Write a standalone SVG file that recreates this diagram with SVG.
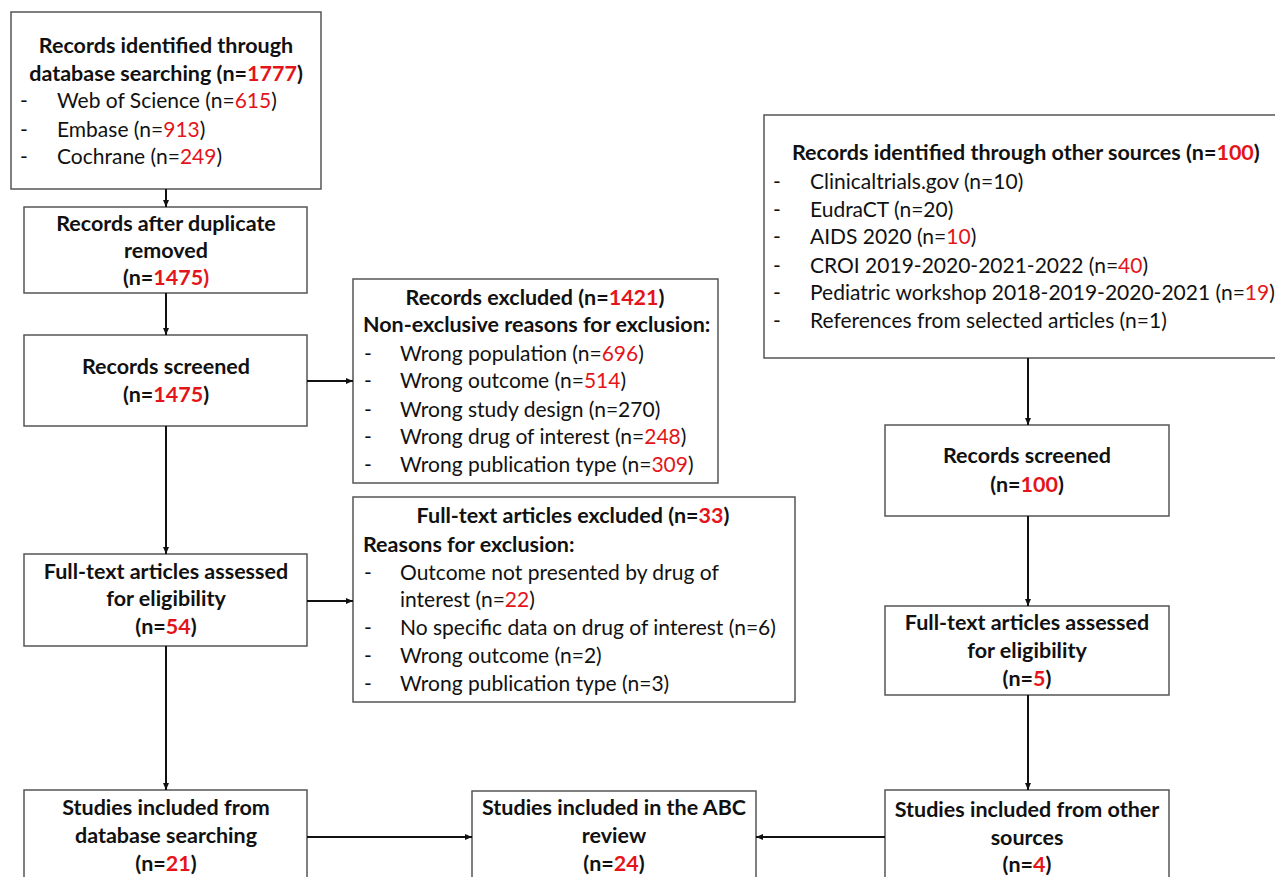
<svg xmlns="http://www.w3.org/2000/svg" width="1275" height="877" viewBox="0 0 1275 877">
<defs>
<style>
.box{fill:#fff;stroke:#555;stroke-width:1.5}
text{font-family:Lato,"Open Sans","Liberation Sans",sans-serif;fill:#111}
.b{font-weight:bold;font-size:21.5px}
.r{font-size:21px}
.c{text-anchor:middle}
.red{fill:#e3151a}
.con line{stroke:#111;stroke-width:2;marker-end:url(#ah)}
</style>
<marker id="ah" markerUnits="userSpaceOnUse" markerWidth="8" markerHeight="8" refX="7" refY="4" orient="auto">
<path d="M0,1 L7,4 L0,7 z" fill="#111"/>
</marker>
</defs>
<rect width="1275" height="877" fill="#fff"/>

<g id="n1">
<rect class="box" x="11" y="12" width="310" height="177"/>
<text class="b c" x="166" y="53">Records identified through</text>
<text class="b c" x="166" y="81">database searching (n=<tspan class="red">1777</tspan>)</text>
<text class="r" x="20" y="108">-</text><text class="r" x="57" y="108">Web of Science (n=<tspan class="red">615</tspan>)</text>
<text class="r" x="20" y="137">-</text><text class="r" x="57" y="137">Embase (n=<tspan class="red">913</tspan>)</text>
<text class="r" x="20" y="164">-</text><text class="r" x="57" y="164">Cochrane (n=<tspan class="red">249</tspan>)</text>
</g>

<g id="n2">
<rect class="box" x="24" y="207" width="283" height="86"/>
<text class="b c" x="166" y="231">Records after duplicate</text>
<text class="b c" x="166" y="258">removed</text>
<text class="b c" x="166" y="285">(n=<tspan class="red">1475)</tspan></text>
</g>

<g id="n3">
<rect class="box" x="24" y="335" width="283" height="91"/>
<text class="b c" x="166" y="374">Records screened</text>
<text class="b c" x="166" y="402">(n=<tspan class="red">1475</tspan>)</text>
</g>

<g id="n4">
<rect class="box" x="353" y="279" width="365" height="204"/>
<text class="b c" x="535" y="305">Records excluded (n=<tspan class="red">1421</tspan>)</text>
<text class="b" x="363" y="332">Non-exclusive reasons for exclusion:</text>
<text class="r" x="364" y="361">-</text><text class="r" x="400" y="361">Wrong population (n=<tspan class="red">696</tspan>)</text>
<text class="r" x="364" y="388">-</text><text class="r" x="400" y="388">Wrong outcome (n=<tspan class="red">514</tspan>)</text>
<text class="r" x="364" y="417">-</text><text class="r" x="400" y="417">Wrong study design (n=270)</text>
<text class="r" x="364" y="444">-</text><text class="r" x="400" y="444">Wrong drug of interest (n=<tspan class="red">248</tspan>)</text>
<text class="r" x="364" y="472">-</text><text class="r" x="400" y="472">Wrong publication type (n=<tspan class="red">309</tspan>)</text>
</g>

<g id="n5">
<rect class="box" x="24" y="554" width="283" height="92"/>
<text class="b c" x="166" y="579">Full-text articles assessed</text>
<text class="b c" x="166" y="606">for eligibility</text>
<text class="b c" x="166" y="634">(n=<tspan class="red">54</tspan>)</text>
</g>

<g id="n6">
<rect class="box" x="353" y="497" width="442" height="205"/>
<text class="b c" x="573" y="523">Full-text articles excluded (n=<tspan class="red">33</tspan>)</text>
<text class="b" x="363" y="552">Reasons for exclusion:</text>
<text class="r" x="364" y="580">-</text><text class="r" x="400" y="580">Outcome not presented by drug of</text>
<text class="r" x="400" y="607">interest (n=<tspan class="red">22</tspan>)</text>
<text class="r" x="364" y="635">-</text><text class="r" x="400" y="635">No specific data on drug of interest (n=6)</text>
<text class="r" x="364" y="663">-</text><text class="r" x="400" y="663">Wrong outcome (n=2)</text>
<text class="r" x="364" y="691">-</text><text class="r" x="400" y="691">Wrong publication type (n=3)</text>
</g>

<g id="n7">
<rect class="box" x="24" y="790" width="283" height="110"/>
<text class="b c" x="166" y="815">Studies included from</text>
<text class="b c" x="166" y="843">database searching</text>
<text class="b c" x="166" y="871">(n=<tspan class="red">21</tspan>)</text>
</g>

<g id="n8">
<rect class="box" x="472" y="791" width="284" height="110"/>
<text class="b c" x="614" y="815">Studies included in the ABC</text>
<text class="b c" x="614" y="843">review</text>
<text class="b c" x="614" y="871">(n=<tspan class="red">24</tspan>)</text>
</g>

<g id="n9">
<rect class="box" x="764" y="115" width="520" height="243"/>
<text class="b" x="792" y="160">Records identified through other sources (n=<tspan class="red">100</tspan>)</text>
<text class="r" x="773" y="189">-</text><text class="r" x="810" y="189">Clinicaltrials.gov (n=10)</text>
<text class="r" x="773" y="217">-</text><text class="r" x="810" y="217">EudraCT (n=20)</text>
<text class="r" x="773" y="244">-</text><text class="r" x="810" y="244">AIDS 2020 (n=<tspan class="red">10</tspan>)</text>
<text class="r" x="773" y="273">-</text><text class="r" x="810" y="273">CROI 2019-2020-2021-2022 (n=<tspan class="red">40</tspan>)</text>
<text class="r" x="773" y="300">-</text><text class="r" x="810" y="300">Pediatric workshop 2018-2019-2020-2021 (n=<tspan class="red">19</tspan>)</text>
<text class="r" x="773" y="328">-</text><text class="r" x="810" y="328">References from selected articles (n=1)</text>
</g>

<g id="n10">
<rect class="box" x="885" y="425" width="284" height="91"/>
<text class="b c" x="1027" y="463">Records screened</text>
<text class="b c" x="1027" y="492">(n=<tspan class="red">100</tspan>)</text>
</g>

<g id="n11">
<rect class="box" x="885" y="606" width="284" height="89"/>
<text class="b c" x="1027" y="630">Full-text articles assessed</text>
<text class="b c" x="1027" y="658">for eligibility</text>
<text class="b c" x="1027" y="686">(n=<tspan class="red">5</tspan>)</text>
</g>

<g id="n12">
<rect class="box" x="885" y="790" width="284" height="110"/>
<text class="b c" x="1027" y="817">Studies included from other</text>
<text class="b c" x="1027" y="845">sources</text>
<text class="b c" x="1027" y="872">(n=<tspan class="red">4</tspan>)</text>
</g>

<g id="connectors" class="con">
<line x1="166" y1="189" x2="166" y2="207"/>
<line x1="166" y1="293" x2="166" y2="335"/>
<line x1="307" y1="381" x2="353" y2="381"/>
<line x1="166" y1="426" x2="166" y2="554"/>
<line x1="307" y1="601" x2="353" y2="601"/>
<line x1="166" y1="646" x2="166" y2="790"/>
<line x1="307" y1="837" x2="472" y2="837"/>
<line x1="885" y1="837" x2="756" y2="837"/>
<line x1="1028" y1="358" x2="1028" y2="425"/>
<line x1="1028" y1="516" x2="1028" y2="606"/>
<line x1="1028" y1="695" x2="1028" y2="790"/>
</g>
</svg>
